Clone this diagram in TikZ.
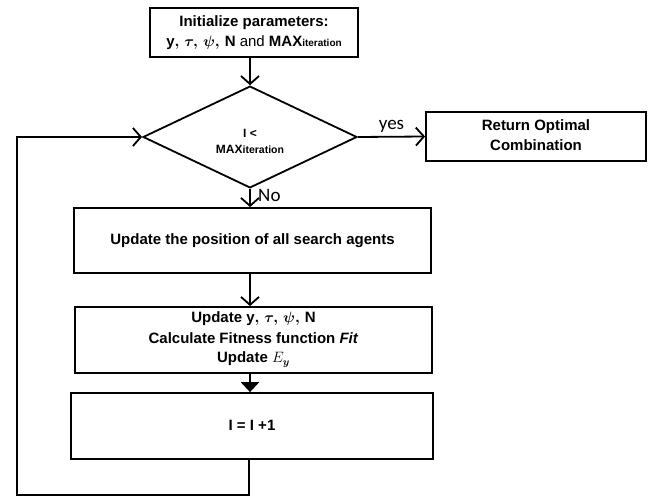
\documentclass[tikz,border=0pt]{standalone}
\usepackage{fix-cm}
\usepackage{fontspec}
\usepackage{amsmath,bm}
\setmainfont{Liberation Sans}
\newfontfamily\lblfont{Carlito}
\usetikzlibrary{shapes.geometric,arrows.meta}
\newcommand{\itsub}[1]{\raisebox{-0.6pt}{\fontsize{#1}{#1}\selectfont iteration}}
\newcommand{\params}{y$\bm{,\,\tau,\,\psi,\,}\mathbf{N}$}
\begin{document}
\begin{tikzpicture}[x=1pt,y=-1pt,
  box/.style={draw,line width=1.8pt,rectangle,align=center,inner sep=0pt,font=\fontsize{15}{20}\selectfont\bfseries},
  arr/.style={line width=1.8pt,-{Straight Barb[length=8pt,width=18pt,line width=1.8pt]}},
  farr/.style={line width=2.8pt,-{Triangle[length=10pt,width=18pt]}},
  lbl/.style={font=\fontsize{19}{20}\lblfont}]
\useasboundingbox (0,0) rectangle (649,497);
\node[box,minimum width=208pt,minimum height=49pt] (init) at (254,32.5)
  {Initialize parameters:\\\params{} {\mdseries and} MAX\itsub{10}};
\node[draw,line width=1.8pt,diamond,inner sep=0pt,minimum width=214pt,minimum height=98pt,align=center,font=\fontsize{12}{14}\selectfont\bfseries] (dec) at (250,137)
  {\rule{0pt}{17pt}I <\\[2pt]MAX\itsub{10.5}};
\node[box,minimum width=220pt,minimum height=49pt] (ret) at (536,136.5)
  {\raisebox{2pt}{Return Optimal}\\\raisebox{2pt}{Combination}};
\node[box,minimum width=357pt,minimum height=65pt] (upd) at (252.5,240.5)
  {Update the position of all search agents};
\node[box,minimum width=357pt,minimum height=66pt,font=\fontsize{15}{20.5}\selectfont\bfseries] (fit) at (253.5,340)
  {\raisebox{4pt}{Update \params}\\\raisebox{4pt}{Calculate Fitness function \textit{Fit}}\\\raisebox{5pt}{Update $E_{\bm{y}}$}};
\node[box,minimum width=362pt,minimum height=66pt] (inc) at (252,426)
  {\raisebox{2pt}{I = I +1}};
\coordinate (c1) at (249,495);
\coordinate (c2) at (17,495);
\coordinate (c3) at (17,137);
\draw[arr] (init.south -| dec.north) -- (dec.north);
\draw[arr] (dec.east) -- (ret.west) node[lbl,midway,above=0pt] {yes};
\draw[arr] (dec.south) -- (upd.north -| dec.south) node[lbl,pos=0.35,right=4pt] {No};
\draw[arr] (upd.south -| dec.south) -- (fit.north -| dec.south);
\draw[farr] (fit.south -| dec.south) -- (inc.north -| dec.south);
\draw[arr] (inc.south -| c1) -- (c1) -- (c2) -- (c3) -- (dec.west);
\end{tikzpicture}
\end{document}
